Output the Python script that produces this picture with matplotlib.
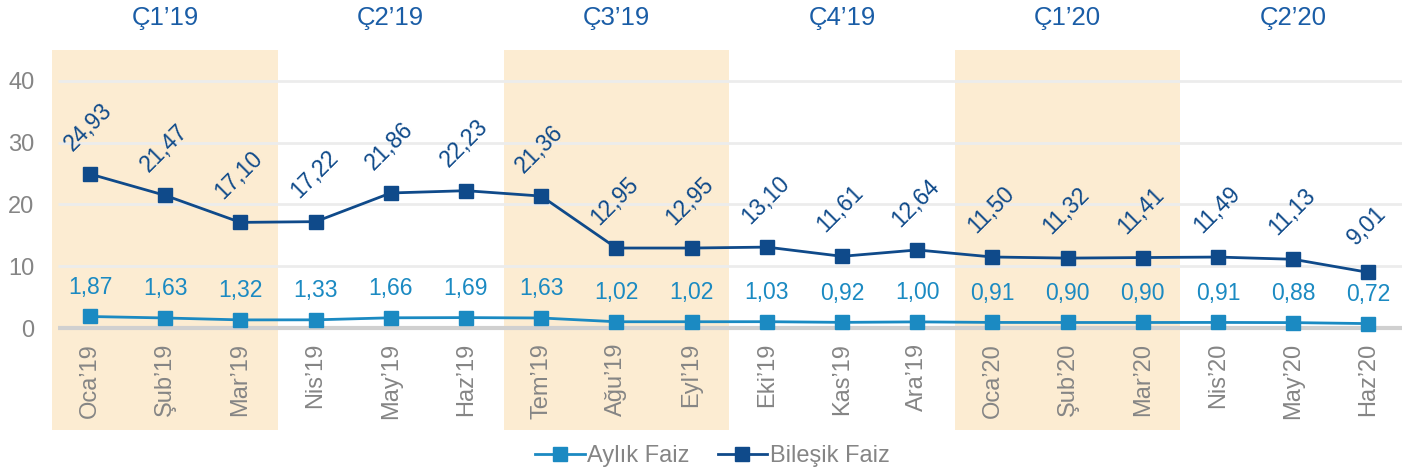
import matplotlib.pyplot as plt
from matplotlib.lines import Line2D

plt.rcParams['font.family'] = ['Liberation Sans', 'DejaVu Sans']

months = ["Oca’19", "Şub’19", "Mar’19", "Nis’19", "May’19", "Haz’19",
          "Tem’19", "Ağu’19", "Eyl’19", "Eki’19", "Kas’19", "Ara’19",
          "Oca’20", "Şub’20", "Mar’20", "Nis’20", "May’20", "Haz’20"]
quarters = ["Ç1’19", "Ç2’19", "Ç3’19", "Ç4’19", "Ç1’20", "Ç2’20"]
aylik = [1.87, 1.63, 1.32, 1.33, 1.66, 1.69, 1.63, 1.02, 1.02,
         1.03, 0.92, 1.00, 0.91, 0.90, 0.90, 0.91, 0.88, 0.72]
bilesik = [24.93, 21.47, 17.10, 17.22, 21.86, 22.23, 21.36, 12.95, 12.95,
           13.10, 11.61, 12.64, 11.50, 11.32, 11.41, 11.49, 11.13, 9.01]
yticks = [0, 10, 20, 30, 40]

c_light = "#1b8ac2"
c_dark = "#0f4a8a"
c_quarter = "#1a5da6"
c_gray = "#858585"
c_shade = "#fcecd2"

fig = plt.figure(figsize=(14.02, 4.74), dpi=100)
ax = fig.add_axes([52.4 / 1402, 44 / 474, 1353.6 / 1402, 380 / 474])
ax.set_xlim(-0.5, 17.5)
ax.set_ylim(-16.5, 45)
for s in ax.spines.values():
    s.set_visible(False)

# alternating quarter bands
for q in range(0, 6, 2):
    ax.axvspan(q * 3 - 0.5, q * 3 + 2.5, color=c_shade, lw=0, zorder=0)

# grid
ax.hlines([10, 20, 30, 40], -0.43, 17.5, color="#ececec", lw=2, zorder=1)
ax.hlines(0, -0.43, 17.5, color="#d0d0d0", lw=3, zorder=1)

x = list(range(len(months)))
ax.plot(x, aylik, color=c_light, lw=2, marker="s", ms=9.5, zorder=3)
ax.plot(x, bilesik, color=c_dark, lw=2, marker="s", ms=9.5, zorder=3)

fmt = lambda v: f"{v:.2f}".replace(".", ",")
for i, v in enumerate(aylik):
    ax.annotate(fmt(v), (i, v), xytext=(0, 21), textcoords="offset points",
                ha="center", va="center", color=c_light, fontsize=16.5)
for i, v in enumerate(bilesik):
    ax.annotate(fmt(v), (i, v), xytext=(-1, 34), textcoords="offset points",
                ha="center", va="center", color=c_dark, fontsize=16.5,
                rotation=45, rotation_mode="anchor")

ax.set_xticks([])
ax.set_yticks(yticks)
ax.set_yticklabels([str(t) for t in yticks], color=c_gray, fontsize=17)
ax.tick_params(axis="y", length=0, pad=13)

for i, m in enumerate(months):
    ax.text(i, -2.4, m, rotation=90, ha="center", va="top",
            color=c_gray, fontsize=17)

for q, name in enumerate(quarters):
    ax.text(q * 3 + 1, 50.2, name, ha="center", va="center",
            color=c_quarter, fontsize=18.5, clip_on=False)

handles = [
    Line2D([], [], color=c_light, lw=2, marker="s", ms=9.5),
    Line2D([], [], color=c_dark, lw=2, marker="s", ms=9.5),
]
fig.legend(handles, ["Aylık Faiz", "Bileşik Faiz"], loc="center",
           bbox_to_anchor=(0.508, 1 - 456 / 474), ncol=2, frameon=False,
           fontsize=17, labelcolor=c_gray, handlelength=2.1,
           handletextpad=0.1, columnspacing=1.2)

fig.savefig("out.png", dpi=100)
